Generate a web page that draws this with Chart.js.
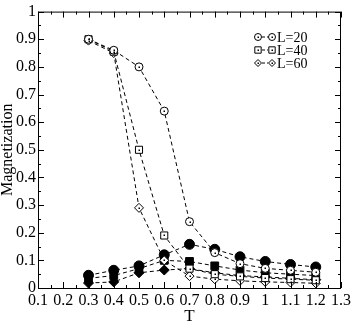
<!DOCTYPE html>
<html>
<head>
<meta charset="utf-8">
<script src="https://cdn.jsdelivr.net/npm/chart.js@4.4.0/dist/chart.umd.min.js"></script>
<style>
  html, body { margin: 0; padding: 0; background: #fff; }
  #wrap { width: 354px; height: 327px; }
</style>
</head>
<body>
<div id="wrap"><canvas id="grafico"></canvas></div>
<script>
// ---------------------------------------------------------------
// Dados
// ---------------------------------------------------------------
const temperaturas = [0.3, 0.4, 0.5, 0.6, 0.7, 0.8, 0.9, 1.0, 1.1, 1.2];

// magnetização (símbolos vazios)
const magL20 = [0.90, 0.86, 0.80, 0.64, 0.24, 0.128, 0.088, 0.071, 0.064, 0.057];
const magL40 = [0.90, 0.855, 0.50, 0.19, 0.07, 0.05, 0.042, 0.036, 0.032, 0.028];
const magL60 = [0.895, 0.85, 0.29, 0.10, 0.043, 0.032, 0.026, 0.022, 0.02, 0.017];

// símbolos cheios
const cheioL20 = [0.046, 0.064, 0.08, 0.12, 0.158, 0.14, 0.113, 0.096, 0.085, 0.076];
const cheioL40 = [0.035, 0.045, 0.07, 0.10, 0.096, 0.08, 0.065, 0.055, 0.05, 0.045];
const cheioL60 = [0.018, 0.022, 0.055, 0.065, 0.07, 0.055, 0.045, 0.04, 0.035, 0.03];

const legendaLabels = ['L=20', 'L=40', 'L=60'];
const legendaEstilos = ['circle', 'rect', 'rectRot'];

const xMin = 0.1, xMax = 1.3;
const yMin = 0, yMax = 1;

const FONTE = '"Liberation Serif", "DejaVu Serif", serif';

// ---------------------------------------------------------------
function pontos(valores) {
  return temperaturas.map((t, i) => ({ x: t, y: valores[i] }));
}

function serie(valores, estilo, aberto, raio) {
  return {
    data: pontos(valores),
    showLine: true,
    borderColor: '#000',
    borderWidth: 1,
    borderDash: [4, 3],
    tension: 0,
    pointStyle: estilo,
    pointRadius: raio,
    pointBorderWidth: 1,
    pointBorderColor: '#000',
    pointBackgroundColor: aberto ? '#fff' : '#000',
    aberto,
  };
}

// moldura + ticks internos (maiores e menores)
const moldura = {
  id: 'moldura',
  afterDraw(chart) {
    const { ctx, chartArea: a, scales: { x, y } } = chart;
    ctx.save();
    ctx.strokeStyle = '#000';
    ctx.lineWidth = 1;
    ctx.strokeRect(a.left + 0.5, a.top + 0.5, a.right - a.left - 1, a.bottom - a.top);
    ctx.beginPath();
    for (let i = 0; i <= 24; i++) {
      const v = xMin + i * 0.05;
      const px = Math.round(x.getPixelForValue(v)) + 0.5;
      const len = i % 2 === 0 ? 6 : 3;
      ctx.moveTo(px, a.bottom); ctx.lineTo(px, a.bottom - len);
      ctx.moveTo(px, a.top); ctx.lineTo(px, a.top + len);
    }
    for (let i = 0; i <= 20; i++) {
      const v = yMin + i * 0.05;
      const py = Math.round(y.getPixelForValue(v)) + 0.5;
      const len = i % 2 === 0 ? 6 : 3;
      ctx.moveTo(a.left, py); ctx.lineTo(a.left + len, py);
      ctx.moveTo(a.right, py); ctx.lineTo(a.right - len, py);
    }
    ctx.stroke();
    ctx.restore();
  },
  afterDatasetsDraw(chart) {
    // ponto central nos símbolos vazios
    const { ctx } = chart;
    ctx.save();
    ctx.fillStyle = '#000';
    chart.data.datasets.forEach((ds, i) => {
      if (!ds.aberto) return;
      chart.getDatasetMeta(i).data.forEach(p => {
        ctx.fillRect(Math.round(p.x) - 0.5, Math.round(p.y) - 0.5, 1.5, 1.5);
      });
    });
    ctx.restore();

    // legenda
    const x0 = 258, y0 = 37, dy = 13;
    ctx.save();
    ctx.strokeStyle = '#000';
    ctx.fillStyle = '#000';
    ctx.lineWidth = 1;
    ctx.font = '14px ' + FONTE;
    ctx.textBaseline = 'middle';
    legendaLabels.forEach((lab, i) => {
      const yy = y0 + i * dy;
      ctx.setLineDash([3, 2]);
      ctx.beginPath();
      ctx.moveTo(x0 + 4, yy); ctx.lineTo(x0 + 10, yy);
      ctx.stroke();
      ctx.setLineDash([]);
      [x0, x0 + 14].forEach(px => {
        ctx.fillStyle = '#fff';
        Chart.helpers.drawPoint(ctx, { pointStyle: legendaEstilos[i], radius: i === 1 ? 4.5 : 3.5, borderWidth: 1 }, px, yy);
        ctx.fillStyle = '#000';
        ctx.fillRect(px - 0.5, yy - 0.5, 1.5, 1.5);
      });
      ctx.fillStyle = '#000';
      ctx.fillText(lab, x0 + 19, yy + 1);
    });
    ctx.restore();
  },
};

new Chart(document.getElementById('grafico'), {
  type: 'scatter',
  data: {
    datasets: [
      serie(magL20, 'circle', true, 4),
      serie(magL40, 'rect', true, 5),
      serie(magL60, 'rectRot', true, 4.5),
      serie(cheioL20, 'circle', false, 5),
      serie(cheioL40, 'rect', false, 5.5),
      serie(cheioL60, 'rectRot', false, 5),
    ],
  },
  options: {
    responsive: true,
    maintainAspectRatio: false,
    animation: false,
    layout: { padding: { top: 6, right: 11, left: 0, bottom: 0 } },
    plugins: { legend: { display: false }, tooltip: { enabled: false } },
    scales: {
      x: {
        type: 'linear',
        min: xMin,
        max: xMax,
        grid: { display: false, drawTicks: false },
        border: { display: false },
        ticks: {
          stepSize: 0.1,
          color: '#000',
          padding: 3,
          maxRotation: 0,
          autoSkip: false,
          font: { family: FONTE, size: 16 },
          callback: v => String(+v.toFixed(1)),
        },
        title: {
          display: true,
          text: 'T',
          color: '#000',
          padding: { top: 1, bottom: 0 },
          font: { family: FONTE, size: 17 },
        },
        afterFit: s => { s.height = 39; },
      },
      y: {
        min: yMin,
        max: yMax,
        grid: { display: false, drawTicks: false },
        border: { display: false },
        ticks: {
          stepSize: 0.1,
          color: '#000',
          padding: 2,
          font: { family: FONTE, size: 16 },
          callback: v => String(+v.toFixed(1)),
        },
        title: {
          display: true,
          text: 'Magnetization',
          color: '#000',
          padding: { top: 0, bottom: 0 },
          font: { family: FONTE, size: 16, lineHeight: 1 },
        },
        afterFit: s => { s.width = 38; },
      },
    },
  },
  plugins: [moldura],
});
</script>
</body>
</html>
